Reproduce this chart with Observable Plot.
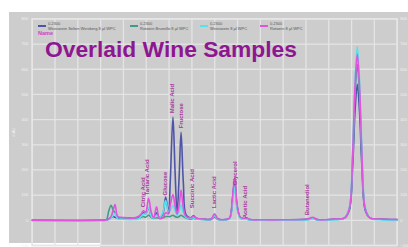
<!DOCTYPE html>
<html>
<head>
<meta charset="utf-8">
<script src="https://cdn.jsdelivr.net/npm/d3@7"></script>
<script src="https://cdn.jsdelivr.net/npm/@observablehq/plot@0.6"></script>
<style>
  html, body { margin: 0; padding: 0; background: #ffffff; }
  #wrap { position: relative; width: 408px; height: 247px; overflow: hidden; font-family: "Liberation Sans", Arial, sans-serif; }
  #panel { position: absolute; left: 9px; top: 12px; width: 399px; height: 235px; background: #cdcdcd; }
  #cut { position: absolute; left: 0; top: 243px; width: 100px; height: 4px; background: #ffffff; }
  #chart { position: absolute; left: 0; top: 0; }
  #chart svg { background: transparent !important; }
  .leg { position: absolute; font-size: 4px; line-height: 5px; color: #555; white-space: nowrap; }
  .sw { position: absolute; height: 2px; width: 8px; }
  #name { position: absolute; left: 38px; top: 30px; font-size: 5.5px; font-weight: bold; color: #d040c8; }
  #title { position: absolute; left: 45px; top: 36px; font-size: 22.8px; font-weight: bold; color: #8e1690; white-space: nowrap; line-height: 26px; }
</style>
</head>
<body>
<div id="wrap">
  <div id="panel"></div>
  <div id="cut"></div>
  <div id="chart"></div>
  <div id="legend"></div>
  <div id="name">Name</div>
  <div id="title">Overlaid Wine Samples</div>
</div>
<script>
// Retention time (min)
const times = [0, 6.0, 6.5, 6.7, 6.91, 7.1, 7.26, 7.5, 7.8, 8.3, 8.8, 9.3, 9.55, 9.76, 9.95, 10.2, 10.45, 10.65, 10.9, 11.15, 11.45, 11.7, 11.95, 12.1, 12.34, 12.52, 12.7, 12.88, 13.05, 13.25, 13.5, 13.9, 14.14, 14.4, 15.0, 15.7, 15.98, 16.3, 16.9, 17.3, 17.55, 17.76, 17.97, 18.25, 18.55, 18.79, 19.1, 20, 22, 24.2, 24.57, 25.0, 26.5, 27.4, 27.8, 28.1, 28.3, 28.5, 28.7, 28.9, 29.2, 29.6, 30.5, 32];
// Signal of each sample
const seltenWeisberg = [0, 0, 1, 5, 10, 15, 12, 8, 8, 10, 8, 10, 20, 30, 25, 50, 15, 8, 30, 10, 25, 92, 30, 150, 410, 200, 30, 170, 350, 150, 20, 10, 18, 8, 5, 5, 22, 5, 3, 8, 80, 160, 55, 10, 6, 8, 3, 2, 2, 5, 10, 3, 5, 10, 40, 220, 430, 540, 430, 220, 40, 10, 5, 3];
const brunello = [0, 0, 2, 35, 60, 40, 30, 12, 10, 8, 5, 8, 12, 15, 12, 20, 12, 8, 10, 8, 10, 15, 15, 15, 20, 15, 12, 15, 20, 15, 8, 5, 8, 5, 3, 3, 12, 3, 2, 7, 70, 150, 50, 10, 5, 5, 2, 1, 1, 3, 8, 2, 3, 10, 45, 255, 495, 620, 495, 255, 45, 10, 4, 2];
const weisswein = [-2, -2, -1, 3, 8, 20, 28, 5, 5, 3, 3, 5, 15, 25, 25, 52, 15, 8, 20, 10, 30, 79, 35, 40, 60, 40, 20, 35, 62, 30, 10, 8, 10, 5, 3, 3, 18, 3, 1, 6, 60, 132, 45, 8, 4, 4, 1, 0, 0, 2, 6, 1, 2, 10, 50, 285, 550, 690, 550, 285, 50, 10, 2, 0];
const rotwein = [0, 0, 1, 5, 15, 40, 63, 15, 12, 10, 8, 15, 25, 38, 32, 87, 30, 10, 54, 8, 10, 30, 25, 60, 102, 60, 25, 60, 120, 50, 15, 10, 16, 8, 5, 5, 26, 5, 3, 9, 88, 172, 60, 12, 8, 10, 3, 2, 2, 5, 12, 3, 5, 10, 46, 270, 530, 660, 530, 270, 46, 10, 5, 3];

const seriesNames = ["Weisswein Selten Weisberg 8 µl WPC", "Rotwein Brunello 8 µl WPC", "Weisswein 8 µl WPC", "Rotwein 8 µl WPC"];
const seriesCodes = ["0.2300", "0.2300", "0.2300", "0.2300"];
const seriesColors = ["#4f55a6", "#3f9c8c", "#55e2ee", "#e054de"];

// Peak labels
const peakNames = ["Citric Acid", "Tartaric Acid", "Glucose", "Malic Acid", "Fructose", "Succinic Acid", "Lactic Acid", "Glycerol", "Acetic Acid", "Butanediol"];
const peakTimes = [9.73, 10.08, 11.69, 12.3, 13.03, 14.03, 15.92, 17.76, 18.7, 24.11];
const peakLabelBase = [52, 99, 99, 425, 365, 48, 48, 139, 8, 20];

const yTicks = [-100, 0, 100, 200, 300, 400, 500, 600, 700, 800];
const xTicks = [0, 2, 4, 6, 8, 10, 12, 14, 16, 18, 20, 22, 24, 26, 28, 30, 32];

const allSeries = [seltenWeisberg, brunello, weisswein, rotwein];
const rows = allSeries.flatMap((vals, si) => times.map((t, i) => ({t, v: vals[i], s: seriesNames[si]})));
const labels = peakNames.map((n, i) => ({n, t: peakTimes[i], v: peakLabelBase[i]}));

const chart = Plot.plot({
  width: 408,
  height: 247,
  marginLeft: 31.7,
  marginRight: 11.3,
  marginTop: 18.4,
  marginBottom: 2,
  style: {background: "transparent", fontFamily: "Liberation Sans, Arial, sans-serif"},
  x: {domain: [0, 32]},
  y: {domain: [-100, 800]},
  marks: [
    Plot.gridX(xTicks, {stroke: "#e4e4e4", strokeOpacity: 1, strokeWidth: 1.3}),
    Plot.gridY(yTicks, {stroke: "#e4e4e4", strokeOpacity: 1, strokeWidth: 1.3}),
    Plot.frame({stroke: "#e6e6e6", strokeWidth: 1.5}),
    Plot.axisY(yTicks, {anchor: "left", tickSize: 0, tickPadding: 4, fontSize: 4, color: "#f2f2f2", label: "mAU", labelAnchor: "center", labelOffset: 20, labelArrow: "none"}),
    Plot.axisY(yTicks, {anchor: "right", tickSize: 0, tickPadding: 3, fontSize: 4, color: "#f2f2f2", label: null}),
    Plot.axisX({ticks: [], label: null}),
    ...allSeries.map((vals, si) => Plot.line(rows.filter(d => d.s === seriesNames[si]), {x: "t", y: "v", stroke: seriesColors[si], strokeWidth: 1.6, curve: "catmull-rom"})),
    Plot.text(labels, {x: "t", y: "v", text: "n", rotate: -90, textAnchor: "start", lineAnchor: "middle", fontSize: 6, fontWeight: "bold", fill: "#a8379f"})
  ]
});
document.getElementById("chart").appendChild(chart);

// Legend (HTML overlay)
const legX = [38, 130, 200, 260];
const legend = document.getElementById("legend");
seriesNames.forEach((n, i) => {
  const sw = document.createElement("div");
  sw.className = "sw";
  sw.style.left = legX[i] + "px";
  sw.style.top = "24.5px";
  sw.style.background = seriesColors[i];
  legend.appendChild(sw);
  const t = document.createElement("div");
  t.className = "leg";
  t.style.left = (legX[i] + 10) + "px";
  t.style.top = "20.5px";
  t.innerHTML = seriesCodes[i] + "<br>" + n;
  legend.appendChild(t);
});
</script>
</body>
</html>
